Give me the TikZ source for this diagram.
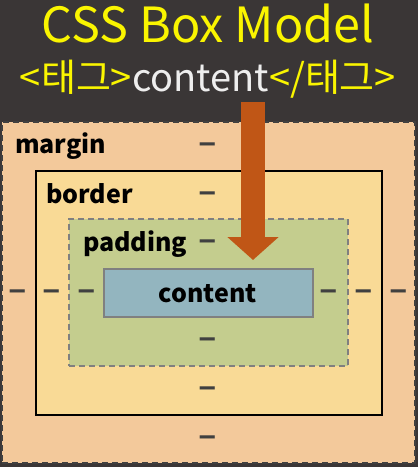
\documentclass[tikz,border=0pt]{standalone}
\usepackage{fontspec}
\setmainfont{Noto Sans CJK KR}
\usetikzlibrary{arrows.meta}
\definecolor{bgdark}{RGB}{58,54,54}
\definecolor{titleyellow}{RGB}{250,245,0}
\definecolor{taggray}{RGB}{238,238,238}
\definecolor{marginfill}{RGB}{243,201,155}
\definecolor{borderfill}{RGB}{249,218,150}
\definecolor{paddingfill}{RGB}{196,205,142}
\definecolor{contentfill}{RGB}{147,181,191}
\definecolor{arroworange}{RGB}{192,86,22}
\definecolor{markgray}{RGB}{64,64,64}

\begin{document}
\begin{tikzpicture}[x=1pt,y=-1pt]
                    \tikzset{layer/.style={anchor=center, inner sep=0pt, outer sep=0pt}}
                    \tikzset{boxlabel/.style={anchor=base west, inner sep=0pt, font=\bfseries\fontsize{25}{25}\selectfont}}
                    \tikzset{valmark/.style={anchor=center, inner sep=0pt, text=markgray, font=\bfseries\fontsize{28}{28}\selectfont}}
                    \fill[bgdark] (0,0) rectangle (418,467);
                    % title lines
                    \node[anchor=base, inner sep=0pt, text=titleyellow, font=\fontsize{48.5}{48.5}\selectfont] (title) at (208,42) {CSS Box Model};
                    \node[anchor=base, inner sep=0pt, text=titleyellow, font=\fontsize{38}{38}\selectfont] (tagline) at (208,91)
                        {<태그>\textcolor{taggray}{content}</태그>};
                    % nested boxes
                    \node[layer, fill=marginfill, draw=markgray, line width=2.5pt, dash pattern=on 6pt off 4pt,
                          minimum width=413pt, minimum height=341pt] (margin) at (208.5,292.5) {};
                    \node[layer, fill=borderfill, draw=black, line width=2pt,
                          minimum width=346pt, minimum height=244pt] (border) at (209,293) {};
                    \node[layer, fill=paddingfill, draw=gray, line width=1.8pt, dash pattern=on 6pt off 4pt,
                          minimum width=279pt, minimum height=147pt] (padding) at (208.5,292.5) {};
                    \node[layer, fill=contentfill, draw=gray, line width=1.8pt,
                          minimum width=209pt, minimum height=48pt] (content) at (208.5,293) {};
                    % labels
                    \node[boxlabel] (marginlabel) at (15,153) {margin};
                    \node[boxlabel] (borderlabel) at (46,203) {border};
                    \node[boxlabel] (paddinglabel) at (83,251) {padding};
                    \node[anchor=base, inner sep=0pt, font=\bfseries\fontsize{25}{25}\selectfont] (contentlabel) at (208,302) {content};
                    % value marks
                    \foreach \n/\x/\y in {mt/208/148, bt/208/197, pt/208/245, pb/208/343, bb/208/392, mb/208/441,
                                         ml/18/295, bl/52/295, pl/87/295, pr/329/295, br/364/295, mr/399/295}
                        \node[valmark] (\n) at (\x,\y) {\scalebox{1.2}[1]{–}};
                    % arrow
                    \coordinate (arrowtop) at (253,102);
                    \coordinate (arrowtip) at (253,260);
                    \draw[arroworange, line width=24pt, -{Triangle[width=50pt,length=23pt]}] (arrowtop) -- (arrowtip);
                    \end{tikzpicture}
\end{document}
